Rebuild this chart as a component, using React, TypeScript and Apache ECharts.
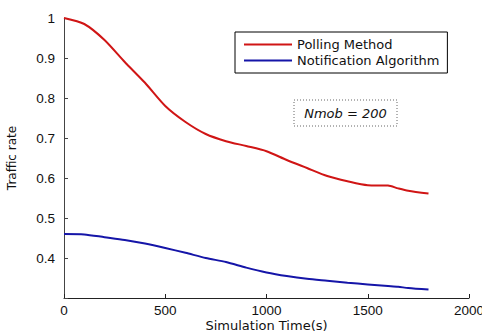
import React, { useEffect, useRef } from "react";
import * as echarts from "echarts";

const times = [0, 100, 200, 300, 400, 500, 600, 700, 800, 900, 1000, 1100, 1200, 1300, 1400, 1500, 1600, 1650, 1700, 1800];
const polling = [1.0, 0.985, 0.945, 0.89, 0.838, 0.78, 0.74, 0.71, 0.692, 0.68, 0.667, 0.645, 0.625, 0.605, 0.592, 0.582, 0.581, 0.574, 0.568, 0.561];
const notification = [0.46, 0.459, 0.452, 0.445, 0.436, 0.425, 0.413, 0.4, 0.39, 0.376, 0.364, 0.355, 0.348, 0.343, 0.338, 0.334, 0.33, 0.328, 0.325, 0.321];
const seriesNames = ["Polling Method", "Notification Algorithm"];
const annotation = "Nmob = 200";

export default function App() {
  const ref = useRef<HTMLDivElement>(null);
  useEffect(() => {
    document.body.style.margin = "0";
    const chart = echarts.init(ref.current!, null, { renderer: "svg" });
    const font = "Liberation Sans, Arial, sans-serif";
    const wide = "DejaVu Sans, sans-serif";
    chart.setOption({
      animation: false,
      backgroundColor: "#fff",
      textStyle: { fontFamily: font },
      grid: { left: 64, top: 18, right: 13, bottom: 35, outerBoundsMode: "none", containLabel: false },
      legend: {
        orient: "vertical",
        left: 235,
        top: 32,
        icon: "rect",
        itemWidth: 48,
        itemHeight: 2,
        itemGap: 3,
        padding: [6, 8, 6, 9],
        borderColor: "#000",
        borderWidth: 1,
        backgroundColor: "#fff",
        textStyle: { fontSize: 13, color: "#111", fontFamily: wide },
        data: seriesNames,
      },
      xAxis: {
        type: "value",
        min: 0,
        max: 2000,
        interval: 500,
        name: "Simulation Time(s)",
        nameLocation: "middle",
        nameGap: 20,
        nameMoveOverlap: false,
        nameTextStyle: { fontSize: 13, color: "#111", fontFamily: wide, lineHeight: 14 },
        axisLine: { lineStyle: { color: "#222", width: 1 } },
        axisTick: { inside: true, length: 4, lineStyle: { color: "#222" } },
        axisLabel: { fontSize: 13.5, color: "#111", margin: 5, fontFamily: font, formatter: (v: number) => String(v) },
        splitLine: { show: false },
      },
      yAxis: {
        type: "value",
        min: 0.3,
        max: 1,
        interval: 0.1,
        name: "Traffic rate",
        nameLocation: "middle",
        nameGap: 46,
        nameMoveOverlap: false,
        nameTextStyle: { fontSize: 12, color: "#111", fontFamily: wide },
        axisLine: { show: true, lineStyle: { color: "#444", width: 1 } },
        axisTick: { inside: true, length: 4, lineStyle: { color: "#444" } },
        axisLabel: {
          fontSize: 13.5,
          color: "#111",
          margin: 9,
          fontFamily: font,
          formatter: (v: number) => (v < 0.35 ? "" : String(Math.round(v * 10) / 10)),
        },
        splitLine: { show: false },
      },
      series: [
        {
          name: seriesNames[0],
          type: "line",
          data: times.map((t, i) => [t, polling[i]]),
          showSymbol: false,
          smooth: 0.25,
          lineStyle: { color: "#d01515", width: 2 },
          itemStyle: { color: "#d01515" },
        },
        {
          name: seriesNames[1],
          type: "line",
          data: times.map((t, i) => [t, notification[i]]),
          showSymbol: false,
          smooth: 0.25,
          lineStyle: { color: "#1515a8", width: 2 },
          itemStyle: { color: "#1515a8" },
        },
      ],
      graphic: [
        {
          type: "rect",
          shape: { x: 294, y: 100, width: 103, height: 26 },
          style: { fill: "#fff", stroke: "#666", lineWidth: 1, lineDash: [1, 2] },
        },
        {
          type: "text",
          x: 345.5,
          y: 113,
          style: {
            text: annotation,
            fontSize: 13,
            fontStyle: "italic",
            fontFamily: wide,
            fill: "#111",
            align: "center",
            verticalAlign: "middle",
          },
        },
      ],
    });
    return () => chart.dispose();
  }, []);
  return <div ref={ref} style={{ width: 482, height: 333 }} />;
}
